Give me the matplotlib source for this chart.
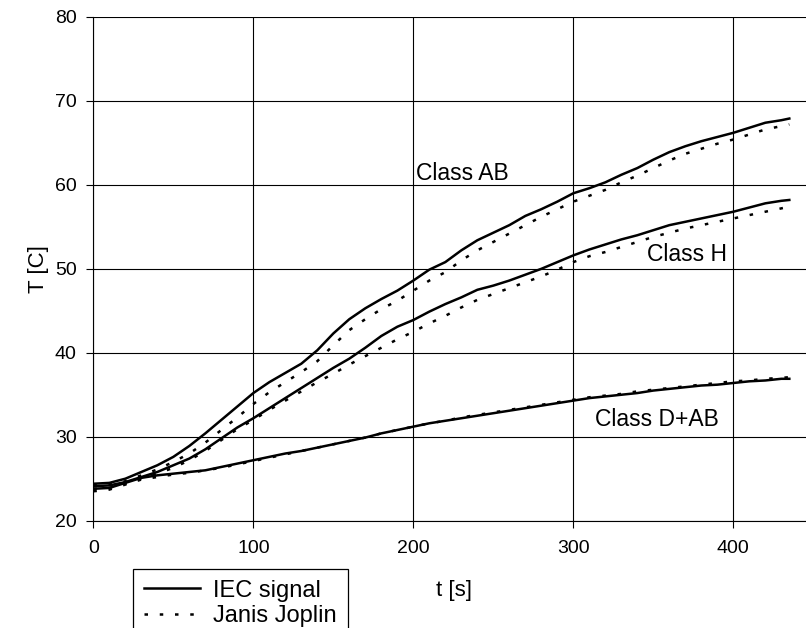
import matplotlib
matplotlib.use("Agg")
from matplotlib import pyplot as plt
import numpy as np

plt.rcParams['font.family'] = ['Liberation Sans', 'DejaVu Sans']

# time axis [s]
t = [0, 10, 20, 30, 40, 50, 60, 70, 80, 90, 100, 110, 120, 130, 140, 150,
     160, 170, 180, 190, 200, 210, 220, 230, 240, 250, 260, 270, 280, 290,
     300, 310, 320, 330, 340, 350, 360, 370, 380, 390, 400, 410, 420, 430, 435]

# Class AB
ab_iec = [24.4, 24.5, 25.0, 25.8, 26.6, 27.6, 28.9, 30.4, 32.0, 33.6, 35.2, 36.5,
          37.6, 38.7, 40.3, 42.3, 44.0, 45.3, 46.4, 47.4, 48.6, 49.9, 50.8, 52.2,
          53.4, 54.3, 55.2, 56.3, 57.1, 58.0, 59.0, 59.6, 60.3, 61.2, 62.0, 63.0,
          63.9, 64.6, 65.2, 65.7, 66.2, 66.8, 67.4, 67.7, 67.9]
ab_jj = [24.2, 24.3, 24.7, 25.4, 26.1, 27.0, 28.0, 29.3, 30.8, 32.3, 33.9, 35.3,
         36.5, 37.7, 39.0, 40.9, 42.7, 44.0, 45.2, 46.2, 47.4, 48.6, 49.6, 51.0,
         52.2, 53.2, 54.2, 55.2, 56.2, 57.1, 58.0, 58.7, 59.4, 60.3, 61.1, 62.0,
         62.9, 63.7, 64.3, 64.9, 65.4, 66.0, 66.6, 67.0, 67.2]

# Class H
h_iec = [24.1, 24.2, 24.6, 25.2, 25.8, 26.6, 27.4, 28.5, 29.8, 31.1, 32.2, 33.4,
         34.6, 35.8, 37.0, 38.2, 39.3, 40.6, 42.0, 43.1, 43.9, 44.9, 45.8, 46.6,
         47.5, 48.0, 48.6, 49.3, 50.0, 50.8, 51.6, 52.3, 52.9, 53.5, 54.0, 54.6,
         55.2, 55.6, 56.0, 56.4, 56.8, 57.3, 57.8, 58.1, 58.2]
h_jj = [23.8, 23.9, 24.4, 25.0, 25.6, 26.3, 27.2, 28.3, 29.6, 30.9, 32.0, 33.2,
        34.3, 35.4, 36.5, 37.5, 38.6, 39.6, 40.6, 41.6, 42.5, 43.5, 44.4, 45.4,
        46.3, 47.0, 47.7, 48.4, 49.1, 49.9, 50.8, 51.5, 52.0, 52.6, 53.2, 53.8,
        54.3, 54.8, 55.2, 55.6, 56.0, 56.4, 56.8, 57.2, 57.4]

# Class D+AB
d_iec = [23.8, 23.9, 24.5, 25.1, 25.4, 25.6, 25.8, 26.0, 26.4, 26.8, 27.2, 27.6,
         28.0, 28.3, 28.7, 29.1, 29.5, 29.9, 30.4, 30.8, 31.2, 31.6, 31.9, 32.2,
         32.5, 32.8, 33.1, 33.4, 33.7, 34.0, 34.3, 34.6, 34.8, 35.0, 35.2, 35.5,
         35.7, 35.9, 36.1, 36.2, 36.4, 36.6, 36.7, 36.9, 36.9]
d_jj = [23.5, 23.7, 24.3, 24.9, 25.2, 25.5, 25.7, 26.0, 26.3, 26.7, 27.1, 27.5,
        27.9, 28.3, 28.7, 29.1, 29.5, 29.9, 30.4, 30.8, 31.2, 31.6, 31.9, 32.3,
        32.6, 32.9, 33.2, 33.5, 33.8, 34.1, 34.4, 34.7, 34.9, 35.1, 35.4, 35.6,
        35.8, 36.0, 36.2, 36.4, 36.6, 36.7, 36.9, 37.0, 37.1]

fig = plt.figure(figsize=(8.06, 6.28), dpi=100)
ax = fig.add_axes([0.1158, 0.1709, 0.904, 0.8021])

lw = 1.8
dash = (1.4, 4.7)
ax.plot(t, ab_iec, color='black', lw=lw, label='IEC signal')
ax.plot(t, ab_jj, color='black', lw=lw, dashes=dash, label='Janis Joplin')
ax.plot(t, h_iec, color='black', lw=lw)
ax.plot(t, h_jj, color='black', lw=lw, dashes=dash)
ax.plot(t, d_iec, color='black', lw=lw)
ax.plot(t, d_jj, color='black', lw=lw, dashes=dash)

ax.set_xlim(0, 455.4)
ax.set_ylim(20, 80)
ax.set_xticks([0, 100, 200, 300, 400])
ax.set_yticks([20, 30, 40, 50, 60, 70, 80])
ax.grid(True, color='black', lw=0.8)
ax.set_axisbelow(True)
ax.tick_params(direction='out', length=5, width=0.8, labelsize=14, pad=7)
ax.tick_params(axis='x', pad=9)
for s in ax.spines.values():
    s.set_linewidth(0.8)
ax.spines['top'].set_visible(False)
ax.spines['right'].set_visible(False)

ax.set_ylabel('T [C]', fontsize=16)
ax.set_xlabel('t [s]', fontsize=16)
ax.xaxis.set_label_coords(0.495, -0.118)

ax.text(201.7, 61.4, 'Class AB', fontsize=16.5, ha='left', va='center')
ax.text(346, 51.65, 'Class H', fontsize=16.5, ha='left', va='center')
ax.text(313.6, 32.0, 'Class D+AB', fontsize=16.5, ha='left', va='center')

leg = fig.legend(loc='upper left', bbox_to_anchor=(133 / 806, 1 - 569 / 628),
                 bbox_transform=fig.transFigure, borderaxespad=0,
                 fontsize=17, fancybox=False, framealpha=1, edgecolor='black',
                 handlelength=2.4, handletextpad=0.55, labelspacing=0.15,
                 borderpad=0.45)
leg.get_frame().set_linewidth(0.9)

fig.savefig('out.png', dpi=100)
